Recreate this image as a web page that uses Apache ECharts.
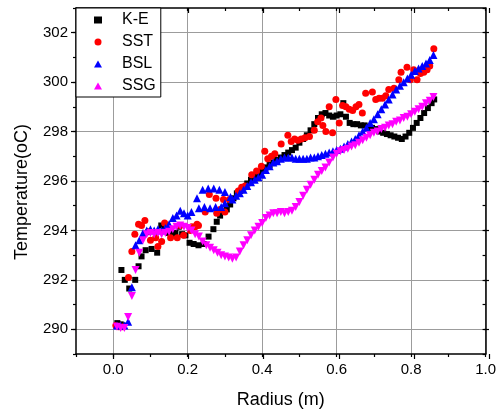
<!DOCTYPE html>
<html>
<head>
<meta charset="utf-8">
<script src="https://cdn.jsdelivr.net/npm/echarts@6/dist/echarts.min.js"></script>
<style>
  html, body { margin: 0; padding: 0; background: #fff; }
  #main { width: 499px; height: 414px; }
</style>
</head>
<body>
<div id="main"></div>
<script>
  // tick labels
  var xTicks = [0, 0.2, 0.4, 0.6, 0.8, 1.0];
  var yTicks = [290, 292, 294, 296, 298, 300, 302];

  // [radius, temperature]
  var keData = [
    [0.011, 290.25], [0.02, 290.2], [0.026, 290.15], [0.022, 292.4], [0.031, 292.0], [0.043, 291.65],
    [0.059, 292.0], [0.068, 292.55], [0.076, 292.95], [0.087, 293.2], [0.103, 293.25], [0.118, 293.1],
    [0.129, 294.2], [0.14, 294.0], [0.149, 293.9], [0.158, 293.85], [0.167, 293.9], [0.176, 294.15],
    [0.185, 293.85], [0.194, 293.8], [0.205, 293.5], [0.216, 293.45], [0.229, 293.4], [0.243, 293.45],
    [0.256, 293.75], [0.269, 294.05], [0.278, 294.35], [0.287, 294.6], [0.296, 294.75], [0.305, 294.85],
    [0.314, 295.05], [0.323, 295.3], [0.332, 295.5], [0.341, 295.6], [0.35, 295.75], [0.36, 295.9],
    [0.37, 296.05], [0.38, 296.2], [0.39, 296.3], [0.40, 296.45], [0.41, 296.55], [0.42, 296.65],
    [0.43, 296.75], [0.44, 296.85], [0.45, 296.95], [0.46, 297.05], [0.47, 297.15], [0.48, 297.25],
    [0.49, 297.35], [0.50, 297.55], [0.51, 297.7], [0.52, 297.85], [0.53, 298.05], [0.54, 298.3],
    [0.55, 298.55], [0.56, 298.7], [0.57, 298.75], [0.58, 298.65], [0.59, 298.6], [0.60, 298.65],
    [0.61, 298.7], [0.618, 299.15], [0.625, 298.6], [0.635, 298.35], [0.645, 298.3], [0.655, 298.3],
    [0.665, 298.25], [0.675, 298.25], [0.685, 298.2], [0.695, 298.15], [0.705, 298.1], [0.715, 298.0],
    [0.725, 297.95], [0.735, 297.9], [0.745, 297.85], [0.755, 297.8], [0.765, 297.75], [0.775, 297.7],
    [0.785, 297.8], [0.795, 297.95], [0.805, 298.15], [0.815, 298.35], [0.825, 298.55], [0.835, 298.75],
    [0.845, 298.95], [0.855, 299.15], [0.862, 299.3]
  ];

  var sstData = [
    [0.007, 290.15], [0.015, 290.1], [0.025, 290.1], [0.041, 292.1], [0.05, 293.15], [0.058, 293.85],
    [0.068, 294.25], [0.076, 294.2], [0.085, 294.4], [0.094, 293.95], [0.10, 293.6], [0.114, 293.7],
    [0.12, 293.35], [0.13, 293.55], [0.138, 294.3], [0.154, 293.7], [0.172, 293.7], [0.18, 294.2],
    [0.189, 293.8], [0.207, 294.0], [0.211, 294.15], [0.22, 294.15], [0.225, 294.25], [0.229, 294.2],
    [0.247, 294.75], [0.258, 295.45], [0.276, 295.3], [0.278, 294.7], [0.287, 294.85], [0.296, 295.25],
    [0.30, 294.75], [0.312, 295.25], [0.336, 295.6], [0.345, 295.75], [0.354, 295.8], [0.372, 296.25],
    [0.385, 296.4], [0.398, 296.6], [0.407, 297.2], [0.415, 296.9], [0.425, 297.0], [0.434, 297.1],
    [0.451, 297.5], [0.469, 297.85], [0.478, 297.6], [0.487, 297.7], [0.496, 297.65], [0.505, 297.7],
    [0.515, 297.75], [0.527, 297.8], [0.54, 298.05], [0.549, 298.4], [0.558, 298.55], [0.563, 298.25],
    [0.571, 298.0], [0.58, 299.0], [0.589, 297.95], [0.598, 299.3], [0.607, 298.35], [0.616, 299.05],
    [0.625, 299.0], [0.634, 298.9], [0.643, 298.85], [0.652, 299.0], [0.66, 299.1], [0.669, 298.75],
    [0.678, 299.55], [0.696, 299.6], [0.705, 299.3], [0.714, 299.35], [0.723, 299.35], [0.732, 299.45],
    [0.74, 299.7], [0.754, 299.75], [0.767, 300.1], [0.773, 300.4], [0.789, 300.6], [0.798, 300.1],
    [0.807, 300.5], [0.816, 300.1], [0.825, 300.35], [0.834, 300.4], [0.843, 300.5], [0.85, 300.65],
    [0.861, 301.35]
  ];

  var bslData = [
    [0.01, 290.15], [0.02, 290.15], [0.03, 290.15], [0.04, 290.3], [0.05, 291.7], [0.06, 293.4],
    [0.07, 293.6], [0.08, 293.9], [0.09, 294.0], [0.10, 294.05], [0.11, 294.0], [0.12, 294.05],
    [0.13, 294.0], [0.14, 294.1], [0.15, 294.25], [0.16, 294.5], [0.17, 294.6], [0.18, 294.8],
    [0.19, 294.7], [0.20, 294.6], [0.21, 294.75], [0.225, 295.3], [0.24, 295.65], [0.255, 295.7],
    [0.27, 295.7], [0.285, 295.65], [0.30, 295.55], [0.315, 295.35], [0.23, 294.9], [0.245, 294.95],
    [0.26, 294.9], [0.275, 294.95], [0.29, 294.95], [0.30, 295.1], [0.32, 295.25], [0.33, 295.4],
    [0.34, 295.5], [0.35, 295.65], [0.36, 295.8], [0.37, 295.95], [0.38, 296.05], [0.39, 296.15],
    [0.40, 296.25], [0.41, 296.45], [0.42, 296.6], [0.43, 296.75], [0.44, 296.8], [0.45, 296.9],
    [0.46, 296.95], [0.47, 296.95], [0.48, 296.95], [0.49, 296.9], [0.50, 296.9], [0.51, 296.9],
    [0.52, 296.9], [0.53, 296.95], [0.54, 296.95], [0.55, 297.0], [0.56, 297.05], [0.57, 297.1],
    [0.58, 297.15], [0.59, 297.2], [0.60, 297.25], [0.61, 297.3], [0.62, 297.4], [0.63, 297.5],
    [0.64, 297.6], [0.65, 297.7], [0.66, 297.85], [0.67, 298.0], [0.68, 298.15], [0.69, 298.35],
    [0.70, 298.5], [0.71, 298.7], [0.72, 298.9], [0.73, 299.1], [0.74, 299.3], [0.75, 299.5],
    [0.76, 299.7], [0.77, 299.85], [0.78, 300.0], [0.79, 300.15], [0.80, 300.3], [0.81, 300.45],
    [0.82, 300.55], [0.83, 300.65], [0.84, 300.75], [0.85, 300.9], [0.86, 301.1]
  ];

  var ssgData = [
    [0.01, 290.1], [0.02, 290.05], [0.03, 290.05], [0.04, 290.5], [0.05, 291.35], [0.06, 292.4],
    [0.07, 293.1], [0.08, 293.6], [0.09, 293.85], [0.10, 293.9], [0.11, 293.85], [0.12, 293.9],
    [0.13, 293.85], [0.14, 293.9], [0.15, 293.95], [0.16, 294.05], [0.17, 294.15], [0.18, 294.2],
    [0.19, 294.15], [0.20, 294.1], [0.21, 294.0], [0.22, 293.85], [0.23, 293.75], [0.24, 293.55],
    [0.25, 293.4], [0.26, 293.3], [0.27, 293.2], [0.28, 293.1], [0.29, 293.0], [0.30, 292.95],
    [0.31, 292.9], [0.32, 292.85], [0.33, 292.9], [0.34, 293.15], [0.35, 293.4], [0.36, 293.6],
    [0.37, 293.8], [0.38, 294.0], [0.39, 294.15], [0.40, 294.3], [0.41, 294.5], [0.42, 294.6],
    [0.43, 294.7], [0.44, 294.7], [0.45, 294.75], [0.46, 294.7], [0.47, 294.75], [0.48, 294.8],
    [0.49, 294.95], [0.50, 295.15], [0.51, 295.4], [0.52, 295.65], [0.53, 295.85], [0.54, 296.05],
    [0.55, 296.25], [0.56, 296.4], [0.57, 296.55], [0.58, 296.75], [0.59, 296.95], [0.60, 297.1],
    [0.61, 297.2], [0.62, 297.25], [0.63, 297.3], [0.64, 297.4], [0.65, 297.45], [0.66, 297.55],
    [0.67, 297.65], [0.68, 297.75], [0.69, 297.85], [0.70, 297.95], [0.71, 298.0], [0.72, 298.1],
    [0.73, 298.15], [0.74, 298.25], [0.75, 298.3], [0.76, 298.4], [0.77, 298.45], [0.78, 298.55],
    [0.79, 298.6], [0.80, 298.7], [0.81, 298.8], [0.82, 298.9], [0.83, 299.0], [0.84, 299.15],
    [0.85, 299.25], [0.86, 299.4]
  ];

  var font = 'Liberation Sans, Arial, sans-serif';
  var gridRect = { left: 76, right: 10, top: 8, bottom: 60 };
  var black = { color: '#000', width: 1.2 };

  function isTick(list, v) {
    return list.some(function (t) { return Math.abs(t - v) < 1e-6; });
  }

  // grid 0: axes with minor ticks, labels and grid lines
  // grid 1: same box, only the longer major ticks
  function xAxisDef(gridIndex, pos, major) {
    var a = {
      type: 'value', gridIndex: gridIndex, position: pos, min: -0.1, max: 1.0,
      axisLine: { show: !major, onZero: false, lineStyle: { color: '#000', width: 1.5 } },
      axisTick: { show: true, inside: pos === 'top', length: major ? 5 : 3, lineStyle: black },
      axisLabel: { show: false },
      splitLine: { show: false }
    };
    if (major) {
      a.axisTick.customValues = xTicks;
    } else {
      a.interval = 0.1;
    }
    if (!major && pos === 'bottom') {
      a.axisLabel = {
        show: true, color: '#000', fontSize: 15, fontFamily: font, margin: 8,
        formatter: function (v) { return isTick(xTicks, v) ? v.toFixed(1) : ''; }
      };
      a.splitLine = { show: true, lineStyle: { color: ['rgba(0,0,0,0)', '#9c9c9c'], width: 1 } };
      a.name = 'Radius (m)';
      a.nameLocation = 'middle';
      a.nameGap = 37;
      a.nameTextStyle = { color: '#000', fontSize: 18, fontFamily: font };
    }
    return a;
  }

  function yAxisDef(gridIndex, pos, major) {
    var a = {
      type: 'value', gridIndex: gridIndex, position: pos, min: 289, max: 303,
      axisLine: { show: !major, onZero: false, lineStyle: { color: '#000', width: 1.5 } },
      axisTick: { show: true, inside: pos === 'right', length: major ? 5 : 3, lineStyle: black },
      axisLabel: { show: false },
      splitLine: { show: false }
    };
    if (major) {
      a.axisTick.customValues = yTicks;
    } else {
      a.interval = 1;
    }
    if (!major && pos === 'left') {
      a.axisLabel = {
        show: true, color: '#000', fontSize: 15, fontFamily: font, margin: 8,
        formatter: function (v) { return isTick(yTicks, v) ? String(v) : ''; }
      };
      a.splitLine = { show: true, lineStyle: { color: ['rgba(0,0,0,0)', '#9c9c9c'], width: 1 } };
      a.name = 'Temperature(oC)';
      a.nameLocation = 'middle';
      a.nameGap = 45;
      a.nameTextStyle = { color: '#000', fontSize: 18, fontFamily: font, padding: [0, 22, 0, 0] };
    }
    return a;
  }

  function scatter(name, data, symbol, size, color, rotate) {
    return {
      name: name, type: 'scatter', xAxisIndex: 0, yAxisIndex: 0,
      data: data, symbol: symbol, symbolSize: size, symbolRotate: rotate || 0,
      itemStyle: { color: color, opacity: 1 },
      emphasis: { disabled: true }
    };
  }

  var chart = echarts.init(document.getElementById('main'));
  chart.setOption({
    animation: false,
    backgroundColor: '#fff',
    grid: [
      Object.assign({ containLabel: false }, gridRect),
      Object.assign({ containLabel: false }, gridRect)
    ],
    xAxis: [xAxisDef(0, 'bottom', false), xAxisDef(0, 'top', false), xAxisDef(1, 'bottom', true), xAxisDef(1, 'top', true)],
    yAxis: [yAxisDef(0, 'left', false), yAxisDef(0, 'right', false), yAxisDef(1, 'left', true), yAxisDef(1, 'right', true)],
    legend: {
      orient: 'vertical', left: 76, top: 8,
      padding: [4, 5, 3, 18], itemGap: 6, itemWidth: 8, itemHeight: 7,
      backgroundColor: '#fff', borderColor: '#000', borderWidth: 1,
      textStyle: { color: '#000', fontSize: 16, fontFamily: font, lineHeight: 15, padding: [0, 0, 0, 15] },
      data: ['K-E', 'SST', 'BSL', 'SSG']
    },
    series: [
      scatter('K-E', keData, 'rect', 6, '#000000'),
      scatter('SST', sstData, 'circle', 7, '#ff0000'),
      scatter('BSL', bslData, 'triangle', 8, '#0000ff'),
      scatter('SSG', ssgData, 'triangle', 8, '#ff00ff', 180)
    ]
  });
</script>
</body>
</html>
